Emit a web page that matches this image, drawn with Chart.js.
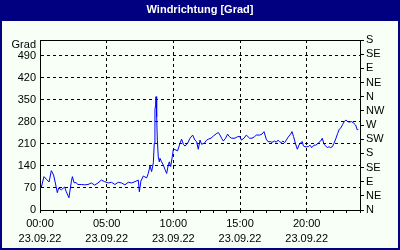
<!DOCTYPE html>
<html>
<head>
<meta charset="utf-8">
<title>Windrichtung [Grad]</title>
<script src="https://cdn.jsdelivr.net/npm/chart.js@4.4.0/dist/chart.umd.min.js"></script>
<style>
  html, body { margin: 0; padding: 0; background: #000080; }
  #wrap { width: 400px; height: 250px; }
</style>
</head>
<body>
<div id="wrap"><canvas id="windChart" width="400" height="250"></canvas></div>
<script>
// measurement times (hours since 00:00) and wind direction in degrees
const hours = [
  0.0, 0.1, 0.3, 0.47, 0.68, 0.85, 1.02, 1.15, 1.3, 1.4, 1.6, 1.85, 1.97, 2.17, 2.35, 2.43, 2.55, 2.7, 2.85,
  3.1, 3.35, 3.6, 3.85, 4.1, 4.35, 4.6, 4.85, 5.12, 5.37, 5.62, 5.87, 6.12, 6.37, 6.62, 6.87, 7.12, 7.37,
  7.45, 7.57, 7.75, 7.87, 8.0, 8.12, 8.25, 8.37, 8.5, 8.57, 8.62, 8.67, 8.7, 8.75, 8.8, 8.87, 8.95, 9.0,
  9.12, 9.25, 9.37, 9.5, 9.62, 9.7, 9.8, 9.92, 10.0, 10.12, 10.32, 10.5, 10.62, 10.75, 10.87, 11.07, 11.25,
  11.45, 11.62, 11.75, 11.87, 12.0, 12.12, 12.32, 12.5, 12.62, 12.82, 13.0, 13.25, 13.37, 13.5, 13.62, 13.75,
  13.92, 14.07, 14.2, 14.37, 14.62, 14.82, 15.0, 15.1, 15.3, 15.47, 15.6, 15.72, 15.9, 16.1, 16.22, 16.47,
  16.65, 16.8, 16.97, 17.1, 17.27, 17.4, 17.6, 17.72, 17.85, 17.97, 18.1, 18.22, 18.35, 18.47, 18.6, 18.8,
  18.9, 19.02, 19.15, 19.3, 19.42, 19.55, 19.67, 19.75, 19.87, 20.0, 20.12, 20.25, 20.37, 20.55, 20.67, 20.8,
  20.92, 21.05, 21.17, 21.3, 21.42, 21.55, 21.67, 21.8, 21.92, 22.05, 22.2, 22.32, 22.45, 22.57, 22.7, 22.82,
  22.95, 23.07, 23.2, 23.37, 23.55, 23.67, 23.8, 23.87
];
const degrees = [
  72, 73, 106, 98, 89, 125, 111, 86, 55, 70, 64, 73, 58, 39, 90, 106, 87, 87, 81,
  81, 80, 81, 86, 79, 86, 95, 90, 86, 88, 81, 88, 86, 80, 88, 86, 90, 95,
  58, 92, 108, 105, 102, 116, 140, 122, 150, 212, 318, 333, 360, 296, 222, 169, 153, 164,
  153, 143, 129, 116, 143, 153, 138, 169, 193, 192, 188, 212, 225, 209, 203, 212, 228,
  238, 222, 217, 193, 222, 209, 212, 222, 225, 228, 235, 243, 246, 238, 228, 219,
  228, 241, 233, 228, 228, 233, 233, 222, 228, 238, 233, 228, 228, 233, 238, 238,
  241, 249, 225, 217, 217, 215, 219, 215, 222, 217, 214, 219, 214, 222, 231, 241,
  249, 233, 212, 193, 206, 214, 217, 204, 201, 201, 201, 206, 198, 206, 206, 209,
  215, 219, 228, 209, 204, 198, 201, 198, 201, 212, 228, 243, 257, 261, 272, 281,
  286, 281, 279, 281, 275, 270, 254, 257
];

const gradTicks = [0, 70, 140, 210, 280, 350, 420, 490];
const dirTicks = [0, 45, 90, 135, 180, 225, 270, 315, 360, 405, 450, 495, 540];
const dirLabels = ['N', 'NE', 'E', 'SE', 'S', 'SW', 'W', 'NW', 'N', 'NE', 'E', 'SE', 'S'];
const hourTicks = [0, 1, 2, 3, 4, 5, 6, 7, 8, 9, 10, 11, 12, 13, 14, 15, 16, 17, 18, 19, 20, 21, 22, 23, 24];
const labelHours = [0, 5, 10, 15, 20];
const labelTimes = ['00:00', '05:00', '10:00', '15:00', '20:00'];
const dateLabel = '23.09.22';

const NAVY = '#000080';
const PANEL = '#F7FFF7';
const tickFont = { family: "'Liberation Sans Narrow', 'Liberation Sans', sans-serif", size: 11, lineHeight: 1.35 };

// window frame + title bar, and the closing top line of the plot box
const frame = {
  id: 'frame',
  beforeDraw(chart) {
    const { ctx, width, height } = chart;
    ctx.save();
    ctx.fillStyle = NAVY;
    ctx.fillRect(0, 0, width, height);
    ctx.fillStyle = PANEL;
    ctx.fillRect(2, 21, width - 4, height - 23);
    ctx.fillStyle = '#fff';
    ctx.font = "bold 11px 'Liberation Sans', sans-serif";
    ctx.textAlign = 'center';
    ctx.textBaseline = 'middle';
    ctx.fillText('Windrichtung [Grad]', width / 2, 10);
    ctx.restore();
  },
  afterDraw(chart) {
    const { ctx, chartArea } = chart;
    ctx.save();
    ctx.strokeStyle = '#000';
    ctx.lineWidth = 1;
    ctx.beginPath();
    ctx.moveTo(chartArea.left, chartArea.top + 0.5);
    ctx.lineTo(chartArea.right, chartArea.top + 0.5);
    ctx.stroke();
    ctx.fillStyle = '#000';
    ctx.font = "11px 'Liberation Sans Narrow', 'Liberation Sans', sans-serif";
    ctx.textAlign = 'right';
    ctx.textBaseline = 'middle';
    ctx.fillText('Grad', chartArea.left - 4, chartArea.top + 5);
    ctx.restore();
  }
};

new Chart(document.getElementById('windChart'), {
  type: 'line',
  data: {
    datasets: [{
      data: hours.map((h, i) => ({ x: h, y: degrees[i] })),
      borderColor: '#0000FF',
      borderWidth: 1,
      pointRadius: 0,
      tension: 0,
      fill: false,
      yAxisID: 'y'
    }]
  },
  options: {
    responsive: false,
    animation: false,
    devicePixelRatio: 1,
    layout: { padding: { top: 40, left: 0, right: 0, bottom: 0 } },
    plugins: { legend: { display: false }, tooltip: { enabled: false }, title: { display: false } },
    scales: {
      x: {
        type: 'linear',
        min: 0,
        max: 24,
        afterBuildTicks: s => { s.ticks = hourTicks.map(v => ({ value: v })); },
        afterFit: s => { s.height = 40; },
        ticks: {
          autoSkip: false,
          maxRotation: 0,
          minRotation: 0,
          color: '#000',
          font: tickFont,
          padding: 4,
          callback: v => {
            const i = labelHours.indexOf(v);
            return i >= 0 ? [labelTimes[i], dateLabel] : '';
          }
        },
        grid: {
          color: c => (c.tick && c.tick.value % 5 === 0 && c.tick.value > 0 && c.tick.value < 24) ? '#000' : 'rgba(0,0,0,0)',
          tickColor: '#000',
          tickLength: 3,
          tickBorderDash: []
        },
        border: { display: true, color: '#000', dash: [3, 3] }
      },
      y: {
        position: 'left',
        min: 0,
        max: 540,
        afterBuildTicks: s => { s.ticks = gradTicks.map(v => ({ value: v })); },
        afterFit: s => { s.width = 40; },
        ticks: { autoSkip: false, color: '#000', font: tickFont, padding: 4 },
        grid: {
          drawTicks: false,
          color: c => (c.tick && c.tick.value > 0) ? '#000' : 'rgba(0,0,0,0)'
        },
        border: { display: true, color: '#000', dash: [3, 3] }
      },
      y2: {
        position: 'right',
        min: 0,
        max: 540,
        afterBuildTicks: s => { s.ticks = dirTicks.map(v => ({ value: v })); },
        afterFit: s => { s.width = 40; },
        ticks: {
          autoSkip: false,
          color: '#000',
          font: tickFont,
          padding: 2,
          callback: (v, i) => dirLabels[i]
        },
        grid: { drawOnChartArea: false, tickColor: '#000', tickLength: 4 },
        border: { display: true, color: '#000' }
      }
    }
  },
  plugins: [frame]
});
</script>
</body>
</html>
